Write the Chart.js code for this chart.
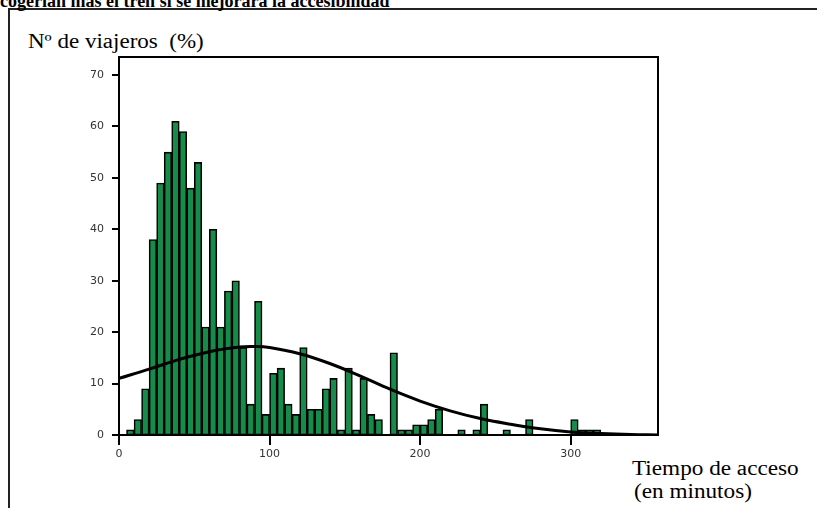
<!DOCTYPE html>
<html>
<head>
<meta charset="utf-8">
<script src="https://cdn.jsdelivr.net/npm/chart.js@4.4.1/dist/chart.umd.min.js"></script>
<style>
  body { margin: 0; background: #fff; }
  #wrap { position: relative; width: 817px; height: 508px; overflow: hidden; }
  #myChart { position: absolute; left: 0; top: 0; }
  .box { position: absolute; left: 8px; top: 8px; width: 840px; height: 540px;
         border-top: 2px solid #222; border-left: 2px solid #222; }
  .txt { position: absolute; font-family: "Liberation Serif", "Times New Roman", serif;
         line-height: 1; white-space: pre; color: #000; transform-origin: left top; }
</style>
</head>
<body>
<div id="wrap">
  <div class="box"></div>
  <div class="txt" style="left:0px; top:-8px; font-size:18px; font-weight:bold;">cogerían más el tren si se mejorara la accesibilidad</div>
  <div class="txt" style="left:28px; top:31px; font-size:20px; transform:scaleX(1.15);">Nº de viajeros  (%)</div>
  <div class="txt" style="left:632px; top:458px; font-size:20px; transform:scaleX(1.16);">Tiempo de acceso</div>
  <div class="txt" style="left:634px; top:481px; font-size:20px; transform:scaleX(1.16);">(en minutos)</div>
  <canvas id="myChart" width="817" height="508"></canvas>
</div>
<script>
// 5 minute bins, mid points (min)
const binMid = [2.5, 7.5, 12.5, 17.5, 22.5, 27.5, 32.5, 37.5, 42.5, 47.5,
  52.5, 57.5, 62.5, 67.5, 72.5, 77.5, 82.5, 87.5, 92.5, 97.5,
  102.5, 107.5, 112.5, 117.5, 122.5, 127.5, 132.5, 137.5, 142.5, 147.5,
  152.5, 157.5, 162.5, 167.5, 172.5, 177.5, 182.5, 187.5, 192.5, 197.5,
  202.5, 207.5, 212.5, 217.5, 222.5, 227.5, 232.5, 237.5, 242.5, 247.5,
  252.5, 257.5, 262.5, 267.5, 272.5, 277.5, 282.5, 287.5, 292.5, 297.5,
  302.5, 307.5, 312.5, 317.5, 322.5, 327.5, 332.5, 337.5, 342.5, 347.5,
  352.5, 357.5]

// nº de viajeros (%) per bin
const viajeros = [0, 1, 3, 9, 38, 49, 55, 61, 59, 48,
  53, 21, 40, 21, 28, 30, 17, 6, 26, 4,
  12, 13, 6, 4, 17, 5, 5, 9, 11, 1,
  13, 1, 11, 4, 3, 0, 16, 1, 1, 2,
  2, 3, 5, 0, 0, 1, 0, 1, 6, 0,
  0, 1, 0, 0, 3, 0, 0, 0, 0, 0,
  3, 1, 1, 1, 0, 0, 0, 0, 0, 0,
  0, 0]

// fitted curve, read at a few points
const curvaX = [0, 20, 40, 60, 80, 90, 100, 120, 140, 160, 180, 200, 220, 240, 260, 280, 300, 320, 340, 358]
const curvaY = [11.0, 12.8, 14.7, 16.2, 17.1, 17.2, 17.0, 15.8, 13.9, 11.5, 8.9, 6.6, 4.7, 3.2, 2.1, 1.2, 0.6, 0.3, 0.1, 0.0]

const xTicks = [0, 100, 200, 300]
const yTicks = [0, 10, 20, 30, 40, 50, 60, 70]

// frame round the plot + outward tick marks
const marco = {
  id: 'marco',
  afterDraw(chart) {
    const a = chart.chartArea, c = chart.ctx
    const sx = chart.scales.x, sy = chart.scales.y
    c.save()
    c.lineWidth = 2
    c.strokeStyle = '#000'
    c.strokeRect(a.left, a.top, a.right - a.left, a.bottom - a.top)
    c.beginPath()
    xTicks.forEach(v => {
      const px = Math.round(sx.getPixelForValue(v))
      c.moveTo(px, a.bottom)
      c.lineTo(px, a.bottom + 10)
    })
    yTicks.forEach(v => {
      const py = Math.round(sy.getPixelForValue(v))
      c.moveTo(a.left - 7, py)
      c.lineTo(a.left, py)
    })
    c.stroke()
    c.restore()
  }
}

const tickFont = { family: 'DejaVu Sans', size: 11 }

new Chart(document.getElementById('myChart'), {
  type: 'bar',
  data: {
    datasets: [{
      type: 'line',
      data: curvaX.map((x, i) => ({ x: x, y: curvaY[i] })),
      borderColor: '#000',
      borderWidth: 3,
      pointRadius: 0,
      tension: 0.4,
      fill: false,
      order: 0
    }, {
      type: 'bar',
      data: binMid.map((x, i) => ({ x: x, y: viajeros[i] })),
      backgroundColor: '#168c4b',
      borderColor: '#000',
      borderWidth: 1.6,
      borderSkipped: false,
      barPercentage: 1,
      categoryPercentage: 1,
      order: 1
    }]
  },
  options: {
    responsive: false,
    animation: false,
    layout: { padding: { left: 0, top: 57, right: 159, bottom: 0 } },
    plugins: { legend: { display: false }, tooltip: { enabled: false } },
    scales: {
      x: {
        type: 'linear',
        offset: false,
        min: 0,
        max: 358,
        afterFit: s => { s.height = 73 },
        afterBuildTicks: s => { s.ticks = xTicks.map(v => ({ value: v })) },
        grid: { display: false, offset: false, drawTicks: true, tickLength: 10 },
        border: { display: true, color: '#000', width: 2 },
        ticks: { font: tickFont, color: '#333', padding: 3, maxRotation: 0 }
      },
      y: {
        min: 0,
        max: 73.5,
        afterFit: s => { s.width = 119 },
        afterBuildTicks: s => { s.ticks = yTicks.map(v => ({ value: v })) },
        grid: { display: false, drawTicks: true, tickLength: 7 },
        border: { display: true, color: '#000', width: 2 },
        ticks: { font: tickFont, color: '#333', padding: 8 }
      }
    }
  },
  plugins: [marco]
})
</script>
</body>
</html>
